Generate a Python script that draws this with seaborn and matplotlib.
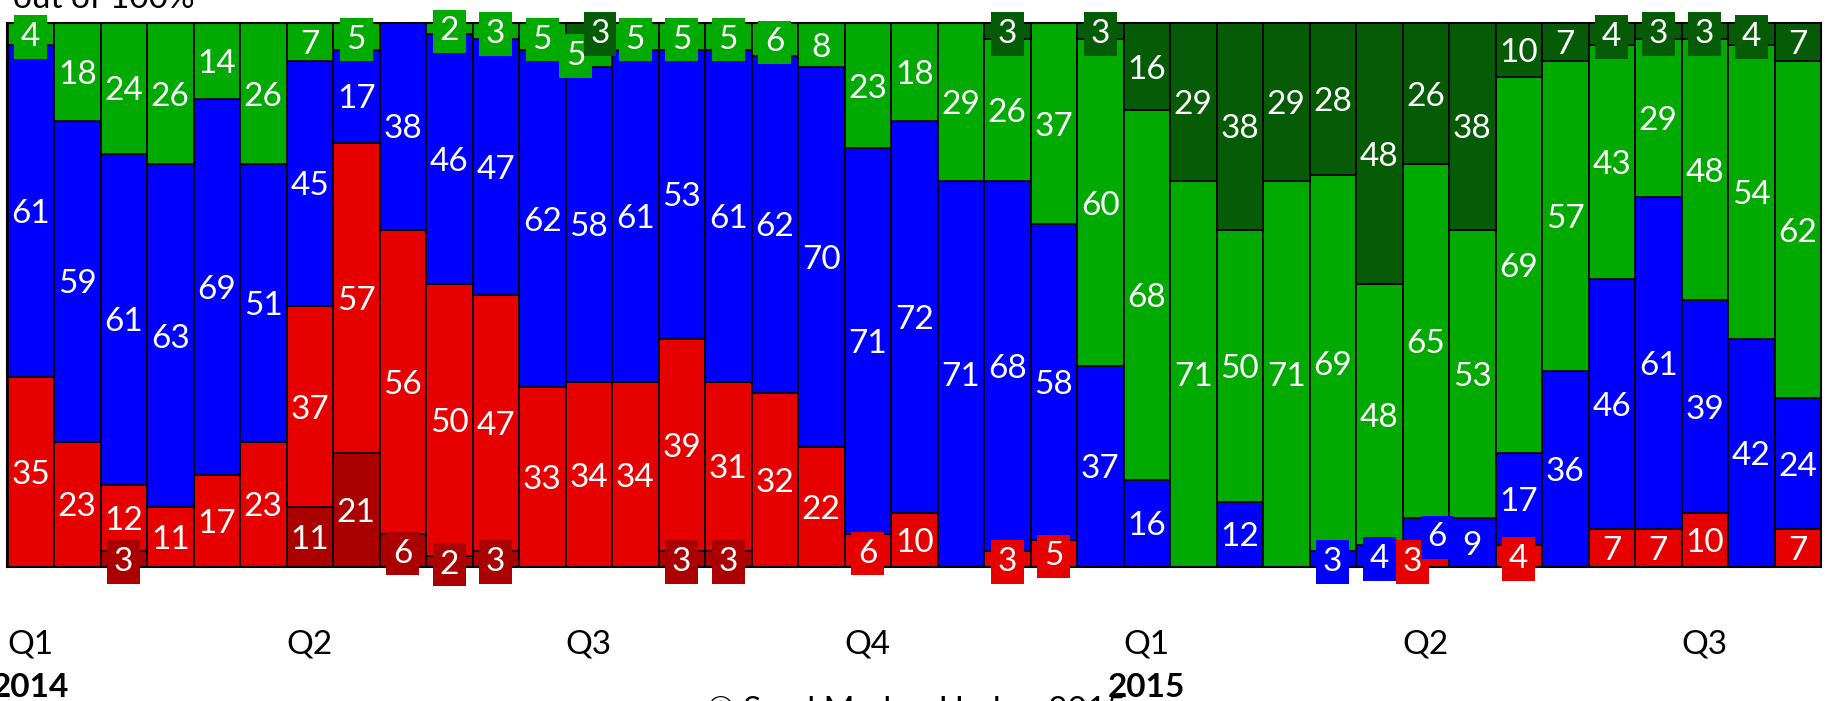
import numpy as np
import matplotlib
matplotlib.use("Agg")
import matplotlib.pyplot as plt
import matplotlib.transforms as mtransforms
import seaborn as sns

# Survey periods (two per month), Q1 2014 .. Q3 2015
periods = list(range(39))

dark_red = [0, 0, 3, 0, 0, 0, 11, 21, 6, 2, 3, 0, 0, 0, 3, 3, 0, 0, 0, 0,
            0, 0, 0, 0, 0, 0, 0, 0, 0, 0, 0, 0, 0, 0, 0, 0, 0, 0, 0]
red = [35, 23, 12, 11, 17, 23, 37, 57, 56, 50, 47, 33, 34, 34, 39, 31, 32, 22, 6, 10,
       0, 3, 5, 0, 0, 0, 0, 0, 0, 0, 3, 0, 4, 0, 7, 7, 10, 0, 7]
blue = [61, 59, 61, 63, 69, 51, 45, 17, 38, 46, 47, 62, 58, 61, 53, 61, 62, 70, 71, 72,
        71, 68, 58, 37, 16, 0, 12, 0, 3, 4, 6, 9, 17, 36, 46, 61, 39, 42, 24]
green = [4, 18, 24, 26, 14, 26, 7, 5, 0, 2, 3, 5, 5, 5, 5, 5, 6, 8, 23, 18,
         29, 26, 37, 60, 68, 71, 50, 71, 69, 48, 65, 53, 69, 57, 43, 29, 48, 54, 62]
dark_green = [0, 0, 0, 0, 0, 0, 0, 0, 0, 0, 0, 0, 3, 0, 0, 0, 0, 0, 0, 0,
              0, 3, 0, 3, 16, 29, 38, 29, 28, 48, 26, 38, 10, 7, 4, 3, 3, 4, 7]

quarter_pos = [0, 6, 12, 18, 24, 30, 36]
quarter_labels = ["Q1", "Q2", "Q3", "Q4", "Q1", "Q2", "Q3"]
year_pos = [0, 24]
year_labels = ["2014", "2015"]

stack = [
    (dark_red, "#AA0000"),
    (red, "#E60000"),
    (blue, "#0000FF"),
    (green, "#00AA00"),
    (dark_green, "#065C06"),
]

sns.set_style("white")
plt.rcParams["font.family"] = ["Lato", "DejaVu Sans"]

W, H = 1825, 701
fig = plt.figure(figsize=(W / 100, H / 100), dpi=100)
ax = fig.add_axes([7.5 / W, (H - 567) / H, (1821 - 7.5) / W, 544 / H])

bottom = np.zeros(len(periods))
bottoms = []
for values, colour in stack:
    vals = np.asarray(values, dtype=float)
    bottoms.append(bottom.copy())
    sns.barplot(x=periods, y=vals, order=periods, bottom=bottom, color=colour,
                saturation=1, width=1.0, edgecolor="black", linewidth=1.2,
                errorbar=None, ax=ax)
    bottom = bottom + vals

# value labels: small segments get a label box in the segment colour
label_size = 24
for i in periods:
    segs = []
    for k, (values, colour) in enumerate(stack):
        v = values[i]
        if v > 0:
            segs.append([k, v, bottoms[k][i] + v / 2, colour, 0.0])
    for a, b in zip(segs[:-1], segs[1:]):
        if a[1] <= 6 and b[1] <= 6:
            a[4] = -0.28
            b[4] = 0.24
    for k, v, yc, colour, dx in segs:
        kw = {}
        if v <= 6:
            kw["bbox"] = dict(boxstyle="square,pad=0.2", fc=colour, ec="none")
        ax.text(i + dx, yc, f"{v}", ha="center", va="center_baseline",
                color="white", fontsize=label_size, zorder=5, **kw)

ax.set_xlim(-0.5, len(periods) - 0.5)
ax.set_ylim(0, 100)
ax.set_xticks([])
ax.set_yticks([])
ax.set_xlabel("")
ax.set_ylabel("")
for s in ax.spines.values():
    s.set_visible(True)
    s.set_color("black")
    s.set_linewidth(1.5)

trans = mtransforms.blended_transform_factory(ax.transData, ax.transAxes)
for p, lab in zip(quarter_pos, quarter_labels):
    ax.text(p, (567 - 642) / 544, lab, transform=trans, ha="center",
            va="center_baseline", fontsize=label_size, color="black")
for p, lab in zip(year_pos, year_labels):
    ax.text(p, (567 - 685) / 544, lab, transform=trans, ha="center",
            va="center_baseline", fontsize=label_size, fontweight="bold",
            color="black")

fig.text(13 / W, 1 - 8 / H, "out of 100%", ha="left", va="baseline",
         fontsize=label_size, color="black")
fig.text(916 / W, 1 - 696 / H, "© Sand Marker Harker 2015", ha="center",
         va="top", fontsize=label_size, color="black")

fig.savefig("out.png", dpi=100)
